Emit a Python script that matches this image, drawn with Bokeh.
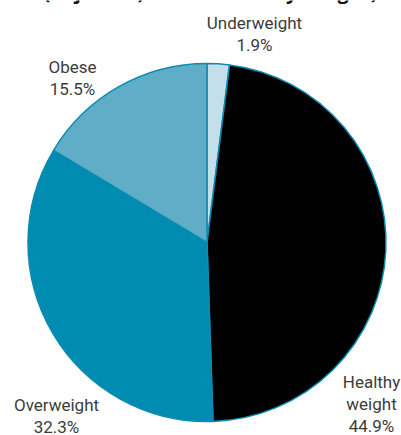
import math
from bokeh.plotting import figure
from bokeh.models import ColumnDataSource, Range1d
from bokeh.core.properties import value
from bokeh.embed import file_html
from bokeh.resources import INLINE

# ---- data ----
title_text = "(adjusted) distribution by weight)"
categories = ["Underweight", "Healthy weight", "Overweight", "Obese"]
shares = [1.9, 44.9, 32.3, 15.5]
colors = ["#c3e0ea", "#000000", "#008bb0", "#5fadc7"]

# ---- layout (screen pixels, origin top-left) ----
W, H = 401, 435
cx, cy, R = 206.5, 242, 179
label_lines = [["Underweight"], ["Healthy", "weight"], ["Overweight"], ["Obese"]]
label_cx = [254, 371, 56, 72]
label_top = [22, 381, 404, 66]   # middle of first line
line_gap = 22

total = sum(shares)
starts, ends = [], []
cum = 0.0
for v in shares:
    starts.append(math.pi / 2 - 2 * math.pi * (cum + v) / total)
    ends.append(math.pi / 2 - 2 * math.pi * cum / total)
    cum += v

src = ColumnDataSource(dict(cat=categories, share=shares, color=colors,
                            start=starts, end=ends))

p = figure(width=W, height=H, output_backend="svg", toolbar_location=None,
           x_range=Range1d(0, W), y_range=Range1d(0, H), min_border=0,
           outline_line_color=None)
p.axis.visible = False
p.grid.visible = False

p.wedge(x=cx, y=H - cy, radius=R, start_angle="start", end_angle="end",
        fill_color="color", line_color="#0a8db0", line_width=1.5, source=src)

tx, ty, tt = [], [], []
for lines, s, x0, y0 in zip(label_lines, shares, label_cx, label_top):
    for i, t in enumerate(lines + [f"{s:.1f}%"]):
        tx.append(x0)
        ty.append(H - (y0 + i * line_gap))
        tt.append(t)
lsrc = ColumnDataSource(dict(x=tx, y=ty, text=tt))
p.text(x="x", y="y", text="text", source=lsrc, text_align="center",
       text_baseline="middle", text_font=value("Roboto"),
       text_font_size="17px", text_color="#3c3c3c")

p.text(x=[210], y=[H - 4], text=[title_text], text_align="center",
       text_baseline="bottom", text_font=value("Open Sans"),
       text_font_style="bold", text_font_size="20px", text_color="#111111")

open("out.html", "w").write(file_html(p, INLINE))
